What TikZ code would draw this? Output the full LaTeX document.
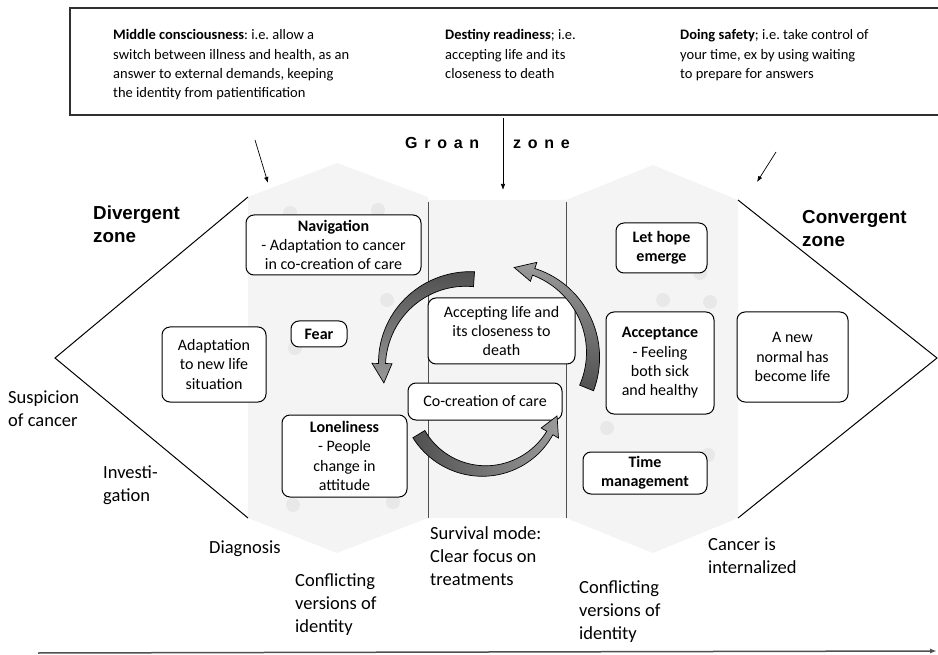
\documentclass[tikz,border=0pt]{standalone}
\usepackage{fontspec}
\setmainfont{Carlito}
\newfontfamily\arialfont{Liberation Sans}
\usetikzlibrary{calc,arrows.meta}
\frenchspacing
\definecolor{bggrey}{HTML}{F4F4F4}
\definecolor{dotgrey}{HTML}{E8E8E8}
\definecolor{arrdark}{HTML}{505050}
\definecolor{arrlight}{HTML}{9A9A9A}
\definecolor{linegrey}{HTML}{505050}
\definecolor{boxline}{HTML}{303030}
% tapered circular block arrow:
% #1 cx, #2 cy, #3 r, #4 tail angle, #5 head-base angle, #6 tip angle, #7 tail width, #8 neck width, #9 head half width
\newcommand{\taparc}[9]{%
  plot[domain=#4:#5, samples=40, variable=\t]
    ({#1+(#3+(#7+(#8-#7)*(\t-#4)/(#5-#4))/2)*cos(\t)}, {#2+(#3+(#7+(#8-#7)*(\t-#4)/(#5-#4))/2)*sin(\t)})
  -- ($(#1,#2)+(#5:{#3+#9})$) -- ($(#1,#2)+(#6:#3)$) -- ($(#1,#2)+(#5:{#3-#9})$)
  -- plot[domain=#5:#4, samples=40, variable=\t]
    ({#1+(#3-(#7+(#8-#7)*(\t-#4)/(#5-#4))/2)*cos(\t)}, {#2+(#3-(#7+(#8-#7)*(\t-#4)/(#5-#4))/2)*sin(\t)})
  -- cycle}
\begin{document}
\begin{tikzpicture}[x=1pt,y=1pt,
  box/.style={draw=black, line width=1pt, rounded corners=8pt, fill=white, align=center, inner sep=0pt,
    font=\fontsize{16}{19.3}\selectfont},
  lbl/.style={anchor=base west, align=left, inner sep=0pt, font=\fontsize{18.5}{23}\selectfont},
  toptxt/.style={anchor=base west, align=left, inner sep=0pt, font=\fontsize{14.5}{19.3}\selectfont},
  zonelbl/.style={anchor=base west, align=left, inner sep=0pt, font=\arialfont\bfseries\fontsize{18.8}{23}\selectfont},
  groanlbl/.style={anchor=base west, inner sep=0pt, font=\arialfont\bfseries\fontsize{16}{19}\selectfont\addfontfeatures{LetterSpace=42}},
  thinarrow/.style={-{Latex[length=6pt,width=4.5pt]}, line width=0.7pt},
  arcarrow/.style={draw=black, line width=0.7pt},
  dotc/.style={circle, fill=dotgrey, minimum size=14pt, inner sep=0pt},
]
\useasboundingbox (0,0) rectangle (938,-655);

% grey background chevrons
\fill[bggrey] (248,-197) -- (337,-163) -- (428,-197) -- (428,-200) -- (566,-200) -- (653,-165) -- (738,-200)
  -- (738,-518) -- (653,-553) -- (566,-518) -- (428,-518) -- (337,-553) -- (248,-518) -- cycle;

% faint dots
\node[dotc] (d1) at (290,-213) {};
\node[dotc] (d2) at (378,-210) {};
\node[dotc] (d3) at (387,-300) {};
\node[dotc] (d4) at (295,-348) {};
\node[dotc] (d5) at (293,-505) {};
\node[dotc] (d6) at (393,-502) {};
\node[dotc] (d7) at (700,-273) {};
\node[dotc] (d8) at (663,-300) {};
\node[dotc] (d9) at (710,-302) {};
\node[dotc] (d10) at (607,-428) {};
\node[dotc] (d11) at (708,-455) {};

% groan zone vertical lines
\coordinate (v1t) at (428,-202); \coordinate (v1b) at (428,-518);
\coordinate (v2t) at (566,-202); \coordinate (v2b) at (566,-518);
\draw[linegrey, line width=0.8pt] (v1t) -- (v1b);
\draw[linegrey, line width=0.8pt] (v2t) -- (v2b);

% divergent / convergent lines
\coordinate (dl1) at (248,-197); \coordinate (dl2) at (55,-358); \coordinate (dl3) at (248,-518);
\coordinate (cl1) at (738,-200); \coordinate (cl2) at (937,-358); \coordinate (cl3) at (738,-518);
\draw[line width=1pt] (dl1) -- (dl2) -- (dl3);
\draw[line width=1pt] (cl1) -- (cl2) -- (cl3);

% top box
\draw[boxline, line width=1.3pt] (945,-8) -- (70,-8) -- (70,-115) -- (945,-115);
\node[toptxt] (t1) at (113,-97.9) {\textbf{Middle consciousness}: i.e. allow a\\switch between illness and health, as an\\answer to external demands, keeping\\the identity from patientification};
\node[toptxt] (t2) at (445,-78.6) {\textbf{Destiny readiness}; i.e.\\accepting life and its\\closeness to death};
\node[toptxt] (t3) at (680,-78.6) {\textbf{Doing safety}; i.e. take control of\\your time, ex by using waiting\\to prepare for answers};

% groan zone label and arrows
\node[groanlbl] (groan) at (405,-149) {Groan};
\node[groanlbl] (zonew) at (513,-149) {zone};
\coordinate (a1s) at (255,-140); \coordinate (a1e) at (268,-183);
\coordinate (a2s) at (503,-118); \coordinate (a2e) at (503,-190);
\coordinate (a3s) at (776,-152); \coordinate (a3e) at (757,-182);
\draw[thinarrow] (a1s) -- (a1e);
\draw[thinarrow] (a2s) -- (a2e);
\draw[thinarrow] (a3s) -- (a3e);

% zone labels
\node[zonelbl] (div) at (93,-243) {Divergent\\zone};
\node[zonelbl] (conv) at (802,-247) {Convergent\\zone};

% boxes
\node[box, minimum width=175pt, minimum height=60pt] (nav) at (333.5,-245) {\textbf{Navigation}\\- Adaptation to cancer\\in co-creation of care};
\node[box, minimum width=56pt, minimum height=26pt] (fear) at (319,-334) {\textbf{Fear}};
\node[box, minimum width=104pt, minimum height=75pt] (adapt) at (214,-364.5) {Adaptation\\to new life\\situation};
\node[box, minimum width=125pt, minimum height=82pt] (lone) at (344.5,-456) {\textbf{Loneliness}\\- People\\change in\\attitude};
\node[box, minimum width=147pt, minimum height=66pt] (accl) at (501.5,-331) {Accepting life and\\its closeness to\\death};
\node[box, minimum width=154pt, minimum height=37pt] (cocre) at (485,-401.5) {Co-creation of care};
\node[box, minimum width=91pt, minimum height=50pt] (hope) at (661.5,-248) {\textbf{Let hope}\\\textbf{emerge}};
\node[box, minimum width=108pt, minimum height=102pt] (accp) at (660,-363) {\textbf{Acceptance}\\- Feeling\\both sick\\and healthy};
\node[box, minimum width=124pt, minimum height=42pt] (time) at (645,-473) {\textbf{Time}\\\textbf{management}};
\node[box, minimum width=111pt, minimum height=90pt] (newn) at (792.5,-357) {A new\\normal has\\become life};

% circular block arrows
\path[arcarrow, top color=arrdark, bottom color=arrlight] \taparc{468}{-365}{86}{86}{179}{192}{15}{7}{10};
\path[arcarrow, top color=arrlight, bottom color=arrdark] \taparc{505}{-355}{88}{-22}{71}{84}{15}{7}{10};
\path[arcarrow, left color=arrdark, right color=arrlight] \taparc{484}{-395}{76}{211}{330}{344}{14}{7}{10};

% bottom labels
\node[lbl] (susp) at (8,-426) {Suspicion\\of cancer};
\node[lbl] (inv) at (103,-501) {Investi-\\gation};
\node[lbl] (diag) at (209,-553) {Diagnosis};
\node[lbl] (conf1) at (295,-632) {Conflicting\\versions of\\identity};
\node[lbl] (surv) at (430,-585) {Survival mode:\\Clear focus on\\treatments};
\node[lbl] (conf2) at (579,-639) {Conflicting\\versions of\\identity};
\node[lbl] (canc) at (708,-573) {Cancer is\\internalized};

% time axis
\coordinate (ax1) at (38,-653); \coordinate (ax2) at (937,-651);
\draw[linegrey, line width=1.5pt, -{Latex[length=7pt,width=5pt]}] (ax1) -- (ax2);
\end{tikzpicture}
\end{document}
